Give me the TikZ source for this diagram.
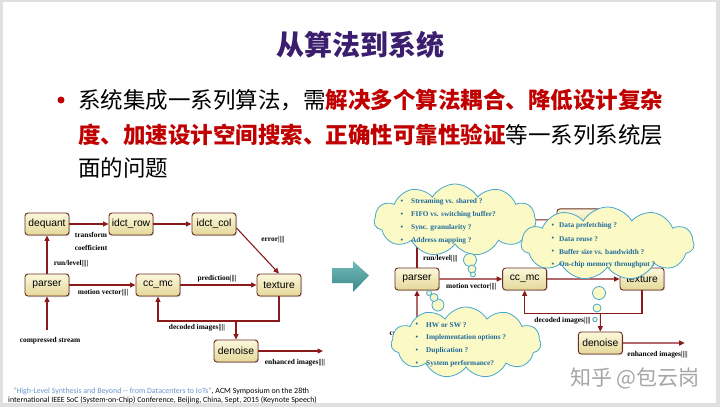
\documentclass[tikz,border=0pt]{standalone}
\usepackage{fontspec}
\setmainfont{Liberation Serif}
\setsansfont{Liberation Sans}
\newfontfamily\cjk{Noto Sans CJK SC}
\newfontfamily\citefont{Carlito}
\usetikzlibrary{shapes.symbols,arrows.meta,shadows,calc}
\definecolor{arrowred}{HTML}{8B1A1A}
\definecolor{boxborder}{HTML}{6B2E22}
\definecolor{boxtop}{HTML}{FCF8DC}
\definecolor{boxbot}{HTML}{E4D799}
\definecolor{titlepurple}{HTML}{3B1F6E}
\definecolor{hired}{HTML}{C00000}
\definecolor{cloudblue}{HTML}{45A7CF}
\definecolor{cloudfill}{HTML}{FBF9C6}
\definecolor{cloudtext}{HTML}{1F6A9A}
\definecolor{linkblue}{HTML}{6A98CF}
\definecolor{tealtop}{HTML}{74BABA}
\definecolor{tealbot}{HTML}{3A8989}
\tikzset{
  blk/.style={draw=boxborder, line width=0.9pt, rounded corners=3pt,
    top color=boxtop, bottom color=boxbot, minimum width=44pt, minimum height=22pt,
    inner sep=0pt, font=\sffamily\fontsize{10.3}{10}\selectfont,
    drop shadow={shadow xshift=1pt, shadow yshift=-1pt, opacity=0.35}},
  flow/.style={draw=arrowred, line width=1.1pt, -{Triangle[length=5.5pt,width=5pt]}},
  lbl/.style={font=\bfseries\fontsize{7.4}{8}\selectfont, inner sep=0pt},
  cloudsty/.style={cloud, cloud puffs=11, cloud puff arc=120, draw=cloudblue,
    fill=cloudfill, line width=0.8pt, inner sep=0pt},
  bubble/.style={circle, draw=cloudblue, fill=cloudfill, line width=0.8pt, inner sep=0pt},
  ctxt/.style={font=\bfseries\fontsize{7.3}{8}\selectfont, text=cloudtext, anchor=west, inner sep=0pt},
  body/.style={font=\cjk\fontsize{22.5}{22.5}\selectfont, anchor=west, inner sep=0pt},
  citesty/.style={font=\citefont\fontsize{7.9}{8}\selectfont, anchor=west, inner sep=0pt}
}
\def\dqtext{dequant}
\def\irtext{idct\_row}
\def\ictext{idct\_col}
\newcommand\hlsdiagram{%
  \node[blk] (dequant) at (47,224) {\dqtext};
  \node[blk] (idctrow) at (131,224) {\irtext};
  \node[blk] (idctcol) at (214,224) {\ictext};
  \node[blk] (parser) at (47,285) {parser};
  \node[blk] (ccmc) at (158,285) {cc\_mc};
  \node[blk] (texture) at (279,285) {texture};
  \node[blk] (denoise) at (236,351) {denoise};
  \coordinate (cs) at (47,330);
  \coordinate (cb) at (158,321);
  \coordinate (db) at (236,321);
  \coordinate (ei) at (323,351);
  \draw[flow] (dequant) -- (idctrow);
  \draw[flow] (idctrow) -- (idctcol);
  \draw[flow] (idctcol.-10) -- (texture.north);
  \draw[flow] (parser) -- (dequant);
  \draw[flow] (parser) -- (ccmc);
  \draw[flow] (ccmc) -- (texture);
  \draw[flow] (cs) -- (parser);
  \draw[flow] (texture.south) |- (cb) -- (ccmc.south);
  \draw[flow] (db) -- (denoise);
  \draw[flow] (denoise) -- (ei);
}
\begin{document}
\begin{tikzpicture}[x=1pt,y=-1pt]
\useasboundingbox (0,0) rectangle (720,407);
\fill[black!12] (0,0) rectangle (720,407);
\fill[white] (3,2) rectangle (716,403);
% title
\node[font=\cjk\bfseries\fontsize{28}{28}\selectfont, text=titlepurple, inner sep=0pt] (title) at (360,45) {从算法到系统};
% bullet
\fill[hired] (61,100) circle (3.5);
\node[body] (line1) at (78,100) {系统集成一系列算法，需\textcolor{hired}{\bfseries 解决多个算法耦合、降低设计复杂}};
\node[body] (line2) at (78,135) {\textcolor{hired}{\bfseries 度、加速设计空间搜索、正确性可靠性验证}等一系列系统层};
\node[body] (line3) at (78,168) {面的问题};
% left diagram
\hlsdiagram
\node[lbl] (ltransform) at (91,235) {transform};
\node[lbl] (lcoeff) at (91,248) {coefficient};
\node[lbl] (lrun) at (71,264) {run/level||||};
\node[lbl] (lmotion) at (103,293) {motion vector||||};
\node[lbl] (lpred) at (217,279) {prediction||||};
\node[lbl] (lerror) at (273,240) {error||||};
\node[lbl] (ldecoded) at (197,328) {decoded images||||};
\node[lbl] (lcomp) at (50,341) {compressed stream};
\node[lbl] (lenh) at (295,363) {enhanced images||||};
% teal arrow
\shade[top color=tealtop, bottom color=tealbot] (332,268) -- (353,268) -- (353,261) -- (369,275.5) -- (353,292) -- (353,283) -- (332,283) -- cycle;
% right diagram (upper boxes hidden under the clouds)
\begin{scope}[shift={(371.4,2.55)}, scale=0.97, name prefix=R-]
  \def\dqtext{}\def\irtext{}\def\ictext{}
  \hlsdiagram
  \node[lbl] (lrun) at (71,264) {run/level||||};
  \node[lbl] (lmotion) at (103,293) {motion vector||||};
  \node[lbl] (ldecoded) at (197,328) {decoded images||||};
  \node[lbl] (lenh) at (295,363) {enhanced images||||};
\end{scope}
\node[lbl, anchor=west] (Rlcomp) at (389.5,334) {co};
% clouds
\node[cloudsty, minimum width=162pt, minimum height=72pt] (c1) at (455,220) {};
\node[cloudsty, minimum width=173pt, minimum height=73pt] (c2) at (607.5,243.5) {};
\node[cloudsty, minimum width=150pt, minimum height=71pt] (c3) at (466,342.5) {};
\node[bubble, minimum size=13pt] (b11) at (470,260) {};
\node[bubble, minimum size=8pt] (b12) at (472,269) {};
\node[bubble, minimum size=5pt] (b13) at (473,274.5) {};
\node[bubble, minimum size=13pt] (b21) at (599,293) {};
\node[bubble, minimum size=8pt] (b22) at (597,308) {};
\node[bubble, minimum size=4.5pt] (b23) at (595,319.5) {};
\node[bubble, minimum size=12pt] (b31) at (438,305) {};
\node[bubble, minimum size=8pt] (b32) at (434,297.5) {};
\node[bubble, minimum size=5pt] (b33) at (429,293) {};
% cloud texts
\foreach \y/\t [count=\i] in {202/Streaming vs. shared ?, 215/FIFO vs. switching buffer?, 228/Sync. granularity ?, 241/Address mapping ?}{
  \node[ctxt] (c1b\i) at (400.5,\y) {•};
  \node[ctxt] (c1t\i) at (411,\y) {\t};
}
\foreach \y/\t [count=\i] in {226/Data prefetching ?, 239/Data reuse ?, 252/Buffer size vs. bandwidth ?, 265/On-chip memory throughput ?}{
  \node[ctxt] (c2b\i) at (551.5,\y) {•};
  \node[ctxt] (c2t\i) at (559,\y) {\t};
}
\foreach \y/\t [count=\i] in {325/HW or SW ?, 338/Implementation options ?, 351/Duplication ?, 364/System performance?}{
  \node[ctxt] (c3b\i) at (415.5,\y) {•};
  \node[ctxt] (c3t\i) at (426,\y) {\t};
}
% watermark
\node[font=\cjk\fontsize{21}{21}\selectfont, text=black!35, inner sep=0pt] (wm) at (635,378) {知乎 @包云岗};
% citation
\node[citesty] (cite1) at (13,391) {\textcolor{linkblue}{“High-Level Synthesis and Beyond -- from Datacenters to IoTs”}, ACM Symposium on the 28th};
\node[citesty] (cite2) at (8,400) {international IEEE SoC (System-on-Chip) Conference, Beijing, China, Sept, 2015 (Keynote Speech)};
\end{tikzpicture}
\end{document}
